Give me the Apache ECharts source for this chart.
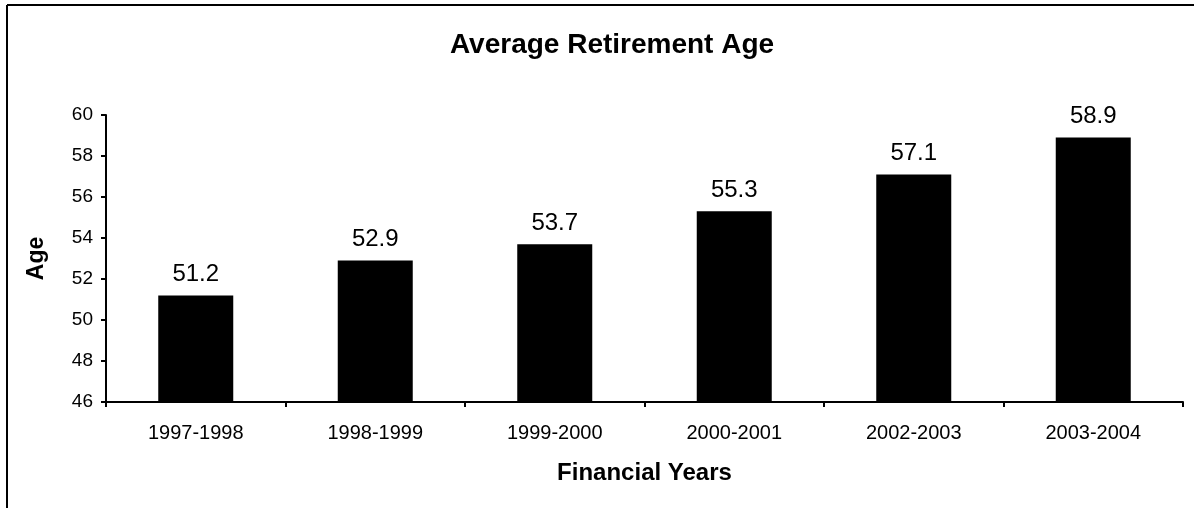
<!DOCTYPE html>
<html>
<head>
<meta charset="utf-8">
<script src="https://cdn.jsdelivr.net/npm/echarts@6/dist/echarts.min.js"></script>
<style>
  html, body { margin: 0; padding: 0; background: #fff; }
  #chart { width: 1194px; height: 508px; }
</style>
</head>
<body>
<div id="chart"></div>
<script>
const categories = ['1997-1998', '1998-1999', '1999-2000', '2000-2001', '2002-2003', '2003-2004']
const ages = [51.2, 52.9, 53.7, 55.3, 57.1, 58.9]
const yMin = 46
const yMax = 60
const yStep = 2

const font = 'Arial, "Liberation Sans", sans-serif'
const chart = echarts.init(document.getElementById('chart'))

chart.setOption({
  backgroundColor: '#fff',
  animation: false,
  title: {
    text: 'Average Retirement Age',
    left: 607,
    top: 26,
    textAlign: 'center',
    textStyle: { fontFamily: font, fontSize: 28, fontWeight: 'bold', color: '#000' },
  },
  grid: { left: 106, right: 11, top: 115, bottom: 106 },
  xAxis: {
    type: 'category',
    data: categories,
    name: 'Financial Years',
    nameLocation: 'middle',
    nameGap: 59,
    nameTextStyle: { fontFamily: font, fontSize: 24, fontWeight: 'bold', color: '#000' },
    axisLine: { lineStyle: { color: '#000', width: 2 } },
    axisTick: { show: true, length: 5, lineStyle: { color: '#000', width: 2 } },
    axisLabel: { fontFamily: font, fontSize: 20, color: '#000', margin: 21 },
  },
  yAxis: {
    type: 'value',
    min: yMin,
    max: yMax,
    interval: yStep,
    name: 'Age',
    nameLocation: 'middle',
    nameGap: 58,
    nameTextStyle: { fontFamily: font, fontSize: 23, fontWeight: 'bold', color: '#000' },
    axisLine: { show: true, lineStyle: { color: '#000', width: 2 } },
    axisTick: { show: true, length: 5, lineStyle: { color: '#000', width: 2 } },
    axisLabel: { fontFamily: font, fontSize: 19, color: '#000', margin: 13 },
    splitLine: { show: false },
  },
  series: [{
    type: 'bar',
    data: ages,
    barWidth: 75,
    itemStyle: { color: '#000' },
    label: {
      show: true,
      position: 'top',
      distance: 9,
      fontFamily: font,
      fontSize: 24,
      color: '#000',
    },
  }],
  graphic: [
    { type: 'line', shape: { x1: 7, y1: 5, x2: 1194, y2: 5 }, style: { stroke: '#000', lineWidth: 2 } },
    { type: 'line', shape: { x1: 7, y1: 5, x2: 7, y2: 508 }, style: { stroke: '#000', lineWidth: 2 } },
  ],
})
</script>
</body>
</html>
